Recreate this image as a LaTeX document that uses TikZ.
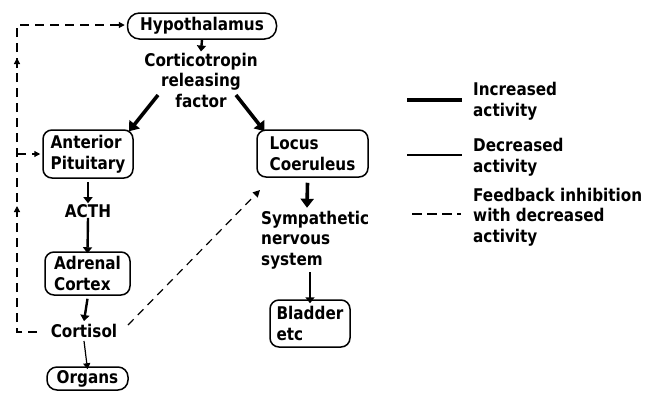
\documentclass[tikz,border=0pt]{standalone}
\usepackage{fontspec}
\setmainfont{DejaVu Sans}[FakeStretch=0.87]
\usetikzlibrary{arrows.meta}
\begin{document}
\begin{tikzpicture}[x=1pt,y=-1pt,
  every node/.style={font=\fontsize{17.5}{20.5}\selectfont\bfseries, inner sep=2pt},
  box/.style={draw, line width=1.5pt, rounded corners=9pt},
  txt/.style={align=center},
  thickarr/.style={line width=3.6pt, -{Triangle[length=9pt,width=13pt]}},
  medarr/.style={line width=2.4pt, -{Triangle[length=6pt,width=9pt]}},
  thinarr/.style={line width=1.2pt, -{Triangle[length=6pt,width=7pt]}},
  fb/.style={line width=1.2pt, dash pattern=on 9pt off 6pt},
  fbarr/.style={fb, -{Triangle[length=6pt,width=6pt]}}
]
\useasboundingbox (0,0) rectangle (648,392);

% nodes
\node[box, minimum width=149pt, minimum height=26pt, rounded corners=12pt] (hyp) at (202,26) {Hypothalamus};
\node[txt] (crf) at (201,80) {Corticotropin\\releasing\\factor};
\node[box, align=left, minimum width=90pt, minimum height=48pt] (ap) at (88,154) {Anterior\\Pituitary};
\node[box, align=left, minimum width=111pt, minimum height=47pt] (lc) at (312.5,153.5) {Locus\\Coeruleus};
\node (acth) at (88,211) {ACTH};
\node[box, align=left, minimum width=85pt, minimum height=43pt] (ac) at (87.5,273.5) {Adrenal\\Cortex};
\node (cort) at (84,331) {Cortisol};
\node[box, minimum width=81pt, minimum height=23pt, rounded corners=10pt] (org) at (87.5,378.5) {Organs};
\node[align=left, anchor=west] (sns) at (259,240) {Sympathetic\\nervous\\system};
\node[box, align=left, minimum width=80pt, minimum height=47pt] (bl) at (310,323.5) {Bladder\\etc\hspace*{24pt}};

% main arrows
\draw[medarr] (hyp.south) -- ([yshift=-1pt]crf.north);
\coordinate (crfL) at (158,95);
\coordinate (crfR) at (236,95);
\draw[thickarr] (crfL) -- ([xshift=41pt,yshift=-2pt]ap.north);
\draw[thickarr] (crfR) -- ([xshift=-48pt,yshift=-2pt]lc.north);
\draw[medarr] ([yshift=-3pt]ap.south) -- ([yshift=-1pt]acth.north);
\draw[medarr] ([yshift=2pt]acth.south) -- ([yshift=-2pt]ac.north);
\draw[medarr] ([yshift=-3pt]ac.south) -- ([yshift=1pt]cort.north);
\draw[thinarr] ([yshift=-1pt]cort.south) -- ([yshift=-3pt]org.north);
\draw[thickarr] ([xshift=-5pt,yshift=-5pt]lc.south) -- ([xshift=48pt,yshift=1pt]sns.north west);
\draw[medarr] ([xshift=51pt,yshift=-1pt]sns.south west) -- ([yshift=-4pt]bl.north);

% feedback
\coordinate (fbA) at (37,332);
\coordinate (fbB) at (17,332);
\coordinate (fbT) at (17,25);
\coordinate (fbM) at (17,154);
\draw[fb] (fbA) -- (fbB) -- (fbT) -- ([xshift=-2pt]fbT -| hyp.west);
\draw[fbarr] ([xshift=-12pt]fbT -| hyp.west) -- ([xshift=-2pt]fbT -| hyp.west);
\draw[fb] (fbM) -- ([xshift=-10pt]fbM -| ap.west);
\draw[line width=1.2pt, -{Triangle[length=6pt,width=6pt]}] ([xshift=-10pt]fbM -| ap.west) -- ([xshift=-2pt]fbM -| ap.west);
\coordinate (up1a) at (17,68);
\coordinate (up1b) at (17,58);
\coordinate (up2a) at (17,216);
\coordinate (up2b) at (17,206);
\draw[line width=1.2pt, -{Triangle[length=6pt,width=6pt]}] (up1a) -- (up1b);
\draw[line width=1.2pt, -{Triangle[length=6pt,width=6pt]}] (up2a) -- (up2b);

\coordinate (cdA) at (128,325);
\coordinate (cdB) at (260,190);
\draw[fb, dash pattern=on 8pt off 6pt, -{Triangle[length=7pt,width=7pt]}] (cdA) -- (cdB);

% legend
\coordinate (l1a) at (407,100); \coordinate (l1b) at (462,100);
\coordinate (l2a) at (407,155); \coordinate (l2b) at (462,155);
\coordinate (l3a) at (412,214); \coordinate (l3b) at (461,214);
\draw[line width=3.6pt] (l1a) -- (l1b);
\draw[line width=1.3pt] (l2a) -- (l2b);
\draw[line width=1.2pt, dash pattern=on 10pt off 5pt] (l3a) -- (l3b);
\node[align=left, anchor=west] (lt1) at (471,101) {Increased\\activity};
\node[align=left, anchor=west] (lt2) at (471,157) {Decreased\\activity};
\node[align=left, anchor=west] (lt3) at (471,217) {Feedback inhibition\\with decreased\\activity};
\end{tikzpicture}
\end{document}
